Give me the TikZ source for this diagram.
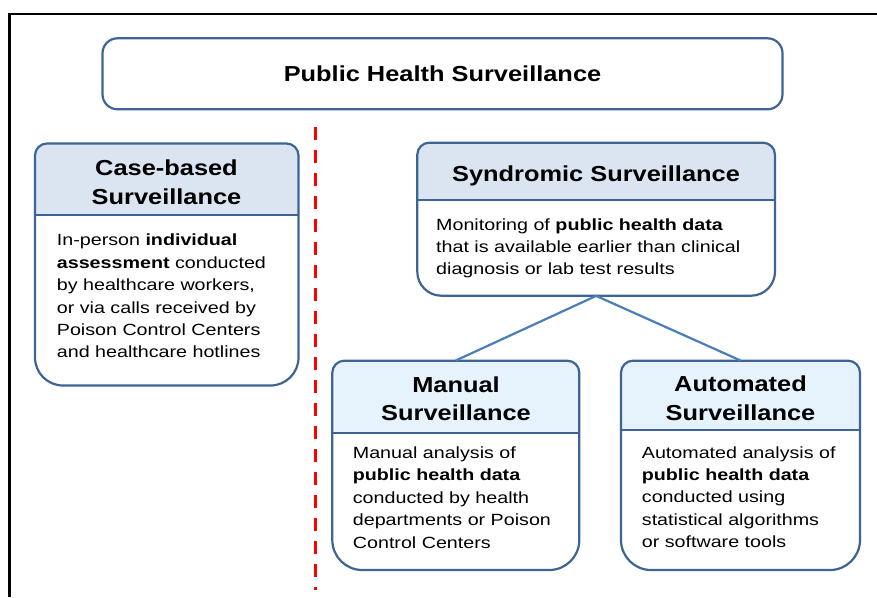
\documentclass[tikz,border=0pt]{standalone}
\usepackage{fontspec}
\setmainfont{Liberation Sans}
\newfontfamily\bodyf[FakeStretch=1.215]{Liberation Sans}
\newfontfamily\headf[FakeStretch=1.17]{Liberation Sans}
\usetikzlibrary{fit}
\definecolor{edge}{HTML}{3E6494}
\definecolor{hdA}{HTML}{DBE5F1}
\definecolor{hdB}{HTML}{E6F3FD}
\definecolor{linkc}{HTML}{4A7EBB}
% name, x1, y1, x2, y2, ydiv, fill, bottom radius
\newcommand\survbox[8]{%
  \coordinate (#1-nw) at (#2,-#3);
  \coordinate (#1-se) at (#4,-#5);
  \node[fit=(#1-nw)(#1-se), inner sep=0pt] (#1) {};
  \begin{scope}
    \clip (#2,-#3) rectangle (#4,-#6);
    \fill[#7] (#2,-#6) [rounded corners=12pt] -- (#2,-#3) -- (#4,-#3) -- (#4,-#6)
      [rounded corners=#8pt] -- (#4,-#5) -- (#2,-#5) -- cycle;
  \end{scope}
  \draw[boxline] (#2,-#6) -- (#4,-#6);
  \draw[boxline] (#2,-#6) [rounded corners=12pt] -- (#2,-#3) -- (#4,-#3) -- (#4,-#6)
      [rounded corners=#8pt] -- (#4,-#5) -- (#2,-#5) -- cycle;
}
\begin{document}
\begin{tikzpicture}[x=1pt,y=1pt,
  boxline/.style={draw=edge,line width=2.2pt},
  hdtext/.style={font=\headf\bfseries\fontsize{21.7}{28.4}\selectfont, align=center, inner sep=0pt},
  bdtext/.style={font=\bodyf\fontsize{16.2}{22.4}\selectfont, align=left, inner sep=0pt},
  link/.style={draw=linkc, line width=2.2pt},
  divider/.style={draw=red, line width=3pt, dash pattern=on 13pt off 10pt},
  frameline/.style={draw=black, line width=2.6pt}
]
\useasboundingbox (0,0) rectangle (877,-597);
\fill[white] (0,0) rectangle (877,-597);

% frame
\coordinate (f1) at (9.7,-597);
\coordinate (f2) at (9.7,-13.8);
\coordinate (f3) at (877,-13.8);
\draw[frameline] (f1) -- (f2) -- (f3);

% title box
\node[draw=edge, line width=2.2pt, rounded corners=15pt, minimum width=680pt,
      minimum height=71pt, inner sep=0pt, font=\headf\bfseries\fontsize{21.7}{26}\selectfont]
      (top) at (442.5,-73.8) {Public Health Surveillance};

% red dashed divider
\coordinate (d1) at (315.5,-127);
\coordinate (d2) at (315.5,-590);
\draw[divider] (d1) -- (d2);

% boxes
\survbox{case}{35}{143.5}{298.5}{385.5}{215}{hdA}{28}
\survbox{syn}{417.3}{142.7}{775}{295.7}{200}{hdA}{24}
\survbox{man}{332.3}{360.7}{579.3}{570}{433.3}{hdB}{30}
\survbox{auto}{621}{360.7}{860}{570}{430}{hdB}{30}

% connectors
\draw[link] (syn.south) -- (man.north);
\draw[link] (syn.south) -- (auto.north);

% headers
\node[hdtext, anchor=north] (caseh) at (166.5,-159.9) {Case-based\\Surveillance};
\node[hdtext, anchor=base] (synh) at (596,-181.7) {Syndromic Surveillance};
\node[hdtext, anchor=north] (manh) at (456,-376.5) {Manual\\Surveillance};
\node[hdtext, anchor=north] (autoh) at (740.5,-375.9) {Automated\\Surveillance};

% bodies
\node[bdtext, anchor=north west] (caseb) at (56.7,-233.9)
  {In-person \textbf{individual}\\\textbf{assessment} conducted\\by healthcare workers,\\or via calls received by\\Poison Control Centers\\and healthcare hotlines};
\node[bdtext, anchor=north west] (synb) at (436,-218.2)
  {Monitoring of \textbf{public health data}\\that is available earlier than clinical\\diagnosis or lab test results};
\node[bdtext, anchor=north west] (manb) at (352.7,-446.5)
  {Manual analysis of\\\textbf{public health data}\\conducted by health\\departments or Poison\\Control Centers};
\node[bdtext, anchor=north west] (autob) at (641.7,-446.2)
  {Automated analysis of\\\textbf{public health data}\\conducted using\\statistical algorithms\\or software tools};
\end{tikzpicture}
\end{document}
